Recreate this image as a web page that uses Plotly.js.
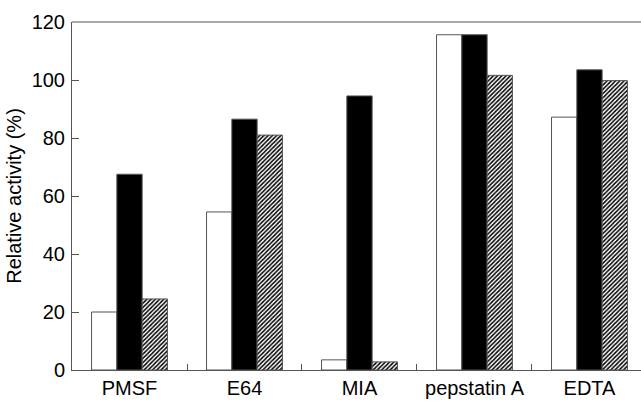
<!DOCTYPE html>
<html><head><meta charset="utf-8">
<script src="https://cdn.plot.ly/plotly-3.0.1.min.js"></script>
<style>body{margin:0;background:#fff}#c{width:641px;height:401px}</style>
</head><body><div id="c"></div>
<script>
const categories = ["PMSF", "E64", "MIA", "pepstatin A", "EDTA"];
const seriesWhite = [20, 54.5, 3.5, 115.6, 87.2];
const seriesBlack = [67.5, 86.5, 94.5, 115.6, 103.5];
const seriesHatched = [24.5, 81, 2.8, 101.6, 99.8];

const line = {color: "#555", width: 1};
const traces = [
  {type: "bar", x: categories, y: seriesWhite, marker: {color: "#fff", line: line}},
  {type: "bar", x: categories, y: seriesBlack, marker: {color: "#000", line: line}},
  {type: "bar", x: categories, y: seriesHatched, marker: {color: "#fff", line: line,
    pattern: {shape: "/", fgcolor: "#000", bgcolor: "#fff", size: 3, solidity: 0.5}}}
];
const font = {family: "Liberation Sans, Arial, sans-serif", size: 20, color: "#000"};
const layout = {
  width: 641, height: 401,
  margin: {l: 72, r: 0, t: 22, b: 31},
  paper_bgcolor: "#fff", plot_bgcolor: "#fff",
  showlegend: false,
  barmode: "group", bargap: 0.34, bargroupgap: 0,
  font: font,
  xaxis: {type: "category", range: [-0.5, 4.448], tickson: "boundaries",
    ticks: "inside", ticklen: 6, tickcolor: "#555", showline: true, linecolor: "#555", linewidth: 1,
    showgrid: false, zeroline: false, tickfont: font, ticklabelstandoff: 0, fixedrange: true},
  yaxis: {range: [0, 120], tickvals: [0, 20, 40, 60, 80, 100, 120],
    ticks: "inside", ticklen: 7, tickcolor: "#555", showline: true, linecolor: "#555", linewidth: 1,
    showgrid: false, zeroline: false, tickfont: font, ticklabelstandoff: 2,
    title: {text: "Relative activity (%)", font: font, standoff: 4}},
  shapes: [{type: "line", xref: "paper", yref: "paper", x0: 0, x1: 1, y0: 1, y1: 1,
    line: {color: "#555", width: 1}}]
};
Plotly.newPlot("c", traces, layout, {displayModeBar: false, staticPlot: true});
</script></body></html>
